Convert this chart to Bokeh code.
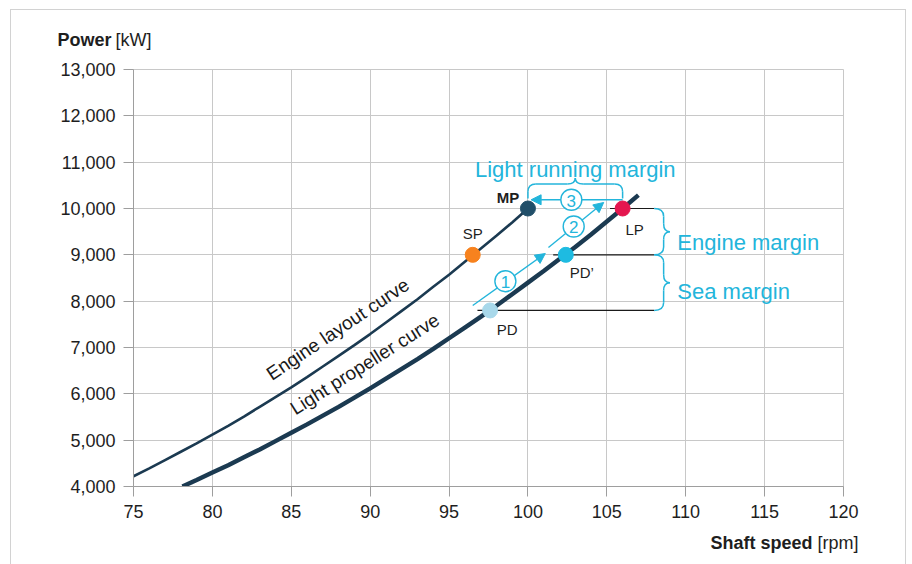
from bokeh.plotting import figure
from bokeh.models import Range1d, FixedTicker, Label, Arrow, NormalHead, ColumnDataSource
from bokeh.core.properties import value
from bokeh.embed import file_html
from bokeh.resources import INLINE

FONT = "Liberation Sans"
CYAN = "#23b5db"
NAVY = "#1b3a51"
TXT = "#1e1e1e"

# ---------------- data ----------------
x_ticks = [75, 80, 85, 90, 95, 100, 105, 110, 115, 120]
x_tick_labels = ["75", "80", "85", "90", "95", "100", "105", "110", "115", "120"]
y_ticks = [4000, 5000, 6000, 7000, 8000, 9000, 10000, 11000, 12000, 13000]
y_tick_labels = ["4,000", "5,000", "6,000", "7,000", "8,000", "9,000",
                 "10,000", "11,000", "12,000", "13,000"]

engine_rpm = [75, 76, 77, 78, 79, 80, 81, 82, 83, 84, 85, 86, 87, 88, 89,
              90, 91, 92, 93, 94, 95, 96, 97, 98, 99, 100]
engine_kw = [4220, 4390, 4570, 4750, 4930, 5120, 5310, 5510, 5720, 5930, 6140, 6360, 6590, 6820, 7050,
             7290, 7540, 7790, 8040, 8310, 8570, 8850, 9130, 9410, 9700, 10000]

prop_rpm = [78.1, 79, 80, 81, 82, 83, 84, 85, 86, 87, 88, 89, 90, 91, 92, 93,
            94, 95, 96, 97, 98, 99, 100, 101, 102, 103, 104, 105, 106, 107]
prop_kw = [4000, 4140, 4300, 4460, 4630, 4800, 4980, 5160, 5340, 5530, 5720, 5920, 6120, 6330, 6540, 6750,
           6970, 7200, 7430, 7660, 7900, 8150, 8400, 8650, 8910, 9170, 9440, 9720, 10000, 10290]

point_names = ["SP", "MP", "LP", "PD\u2019", "PD"]
point_rpm = [96.5, 100, 106, 102.4, 97.6]
point_kw = [9000, 10000, 10000, 9000, 7800]
point_colors = ["#f7821e", "#214f69", "#e4164f", "#1ebbe1", "#a8d8ea"]
label_dx = [0, -20, 12, 16, 17]
label_dy = [-21, -11, 21, 18, 19]
label_style = ["normal", "bold", "normal", "normal", "normal"]

margin_line_end = 108

# step arrows (1: PD -> PD', 2: PD' -> LP, 3: LP -> MP)
step_x0 = [96.5, 101.3, 106.0]
step_y0 = [7907, 9159, 10188]
step_x1 = [101.1, 104.8, 100.2]
step_y1 = [9029, 10130, 10188]
step_num = ["1", "2", "3"]
step_lx = [98.57, 102.9, 102.75]
step_ly = [8431, 9612, 10188]

# ---------------- figure ----------------
p = figure(frame_width=710, frame_height=417,
           x_range=Range1d(75, 120), y_range=Range1d(4000, 13000),
           output_backend="svg", toolbar_location=None,
           min_border_left=122, min_border_right=62, min_border_top=59, min_border_bottom=78)
p.styles = {"border-left": "1px solid #d2d2d2", "border-top": "1px solid #d2d2d2",
            "border-right": "1px solid #d2d2d2", "margin-left": "10px", "margin-top": "9px"}
p.background_fill_color = "white"
p.border_fill_color = "white"
p.outline_line_color = "#c8c8c8"

for ax, ticks, labs in ((p.xaxis[0], x_ticks, x_tick_labels), (p.yaxis[0], y_ticks, y_tick_labels)):
    ax.ticker = FixedTicker(ticks=ticks)
    ax.major_label_overrides = {t: l for t, l in zip(ticks, labs)}
    ax.axis_line_color = "#9e9e9e"
    ax.major_tick_line_color = "#9e9e9e"
    ax.major_tick_out = 10
    ax.major_tick_in = 0
    ax.minor_tick_line_color = None
    ax.major_label_text_font = FONT
    ax.major_label_text_font_size = "18px"
    ax.major_label_text_color = TXT
p.xaxis.major_label_standoff = 8
p.yaxis.major_label_standoff = 8

p.xgrid.ticker = FixedTicker(ticks=x_ticks)
p.ygrid.ticker = FixedTicker(ticks=y_ticks)
p.grid.grid_line_color = "#c8c8c8"
p.grid.grid_line_width = 1

# curves
p.line(engine_rpm, engine_kw, line_color=NAVY, line_width=2.6)
p.line(prop_rpm, prop_kw, line_color=NAVY, line_width=4.4)

# margin lines (from LP, PD', PD)
idx = [2, 3, 4]
p.segment(x0=[point_rpm[i] - 0.8 for i in idx], y0=[point_kw[i] for i in idx],
          x1=[margin_line_end] * 3, y1=[point_kw[i] for i in idx],
          line_color="#1a1a1a", line_width=1.2)

# step arrows
asrc = ColumnDataSource(dict(x0=step_x0, y0=step_y0, x1=step_x1, y1=step_y1))
arr = Arrow(source=asrc, x_start="x0", y_start="y0", x_end="x1", y_end="y1",
            line_color=CYAN, line_width=1.4, level="underlay",
            end=NormalHead(size=10, fill_color=CYAN, line_color=CYAN))
p.add_layout(arr)


# braces
def vbrace(y_top, y_bot, x_end, x_spine, x_tip, ry):
    ym = (y_top + y_bot) / 2
    quads = [
        (x_end, y_top, x_spine, y_top - ry, x_spine, y_top),
        (x_spine, ym + ry, x_tip, ym, x_spine, ym),
        (x_tip, ym, x_spine, ym - ry, x_spine, ym),
        (x_spine, y_bot + ry, x_end, y_bot, x_spine, y_bot),
    ]
    segs = [(x_spine, y_top - ry, x_spine, ym + ry), (x_spine, ym - ry, x_spine, y_bot + ry)]
    return quads, segs


def hbrace(x_left, x_right, y_end, y_spine, y_tip, rx, ry):
    xm = (x_left + x_right) / 2
    quads = [
        (x_left, y_spine - ry, x_left + rx, y_spine, x_left, y_spine),
        (xm - rx, y_spine, xm, y_tip, xm, y_spine),
        (xm, y_tip, xm + rx, y_spine, xm, y_spine),
        (x_right - rx, y_spine, x_right, y_spine - ry, x_right, y_spine),
    ]
    segs = [(x_left, y_end, x_left, y_spine - ry), (x_left + rx, y_spine, xm - rx, y_spine),
            (xm + rx, y_spine, x_right - rx, y_spine), (x_right, y_spine - ry, x_right, y_end)]
    return quads, segs


allq, alls = [], []
for q, s in (vbrace(point_kw[2], point_kw[3], margin_line_end, 108.6, 109.0, 170),
             vbrace(point_kw[3], point_kw[4], margin_line_end, 108.6, 109.0, 170),
             hbrace(point_rpm[1], point_rpm[2], 10215, 10530, 10660, 0.5, 170)):
    allq += q
    alls += s
p.quadratic(x0=[q[0] for q in allq], y0=[q[1] for q in allq], x1=[q[2] for q in allq],
            y1=[q[3] for q in allq], cx=[q[4] for q in allq], cy=[q[5] for q in allq],
            line_color=CYAN, line_width=1.5)
p.segment(x0=[s[0] for s in alls], y0=[s[1] for s in alls], x1=[s[2] for s in alls],
          y1=[s[3] for s in alls], line_color=CYAN, line_width=1.5)

# step number circles
p.scatter(step_lx, step_ly, size=21, marker="circle", fill_color="white",
          line_color=CYAN, line_width=1.4)
p.text(step_lx, step_ly, text=step_num, text_font=value(FONT), text_font_size="17px",
       text_color=CYAN, text_align="center", text_baseline="middle", y_offset=1)

# points
psrc = ColumnDataSource(dict(x=point_rpm, y=point_kw, c=point_colors, n=point_names,
                             dx=label_dx, dy=label_dy, st=label_style))
p.scatter("x", "y", source=psrc, size=15, marker="circle", fill_color="c", line_color="c")
p.text("x", "y", text="n", source=psrc, x_offset="dx", y_offset="dy",
       text_font=value(FONT), text_font_size="15px", text_font_style="st",
       text_color=TXT, text_align="center", text_baseline="middle")

# curve labels
p.text([87.95], [7397], text=["Engine layout curve"], angle=33.8, angle_units="deg",
       text_font=value(FONT), text_font_size="19px", text_color="#1a1a1a",
       text_align="center", text_baseline="middle")
p.text([89.66], [6642], text=["Light propeller curve"], angle=32.3, angle_units="deg",
       text_font=value(FONT), text_font_size="19px", text_color="#1a1a1a",
       text_align="center", text_baseline="middle")

# margin texts
p.text([103.0], [10850], text=["Light running margin"], text_font=value(FONT),
       text_font_size="22px", text_color=CYAN, text_align="center", text_baseline="alphabetic")
p.text([109.47, 109.47], [9267, 8209], text=["Engine margin", "Sea margin"], text_font=value(FONT),
       text_font_size="22px", text_color=CYAN, text_align="left", text_baseline="alphabetic")

# axis titles (placed in side panels so they are not clipped to the frame)
p.add_layout(Label(x=70.18, y=13626, text="Power",
                   text_font=FONT, text_font_size="18px", text_font_style="bold",
                   text_color=TXT, text_baseline="middle"), "above")
p.add_layout(Label(x=73.86, y=13626, text="[kW]",
                   text_font=FONT, text_font_size="18px", text_color=TXT, text_baseline="middle"), "above")
p.add_layout(Label(x=118.03, y=2791, text="Shaft speed",
                   text_font=FONT, text_font_size="18px", text_font_style="bold",
                   text_color=TXT, text_baseline="middle", text_align="right"), "below")
p.add_layout(Label(x=120.95, y=2791, text="[rpm]",
                   text_font=FONT, text_font_size="18px", text_color=TXT,
                   text_baseline="middle", text_align="right"), "below")

open("out.html", "w").write(file_html(p, INLINE))
